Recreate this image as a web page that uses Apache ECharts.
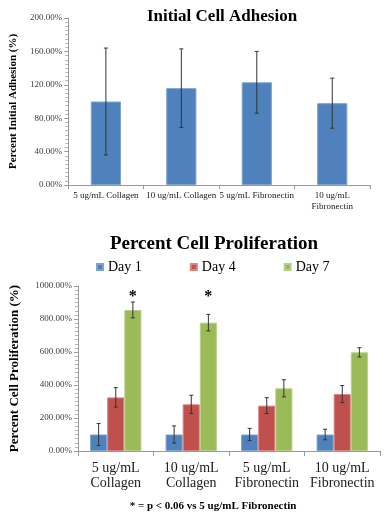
<!DOCTYPE html>
<html>
<head>
<meta charset="utf-8">
<script src="https://cdn.jsdelivr.net/npm/echarts@6/dist/echarts.min.js"></script>
<style>
html,body{margin:0;padding:0;background:#fff;}
#chart{width:392px;height:526px;}
</style>
</head>
<body>
<div id="chart"></div>
<script>
// ---- Data: Initial Cell Adhesion ----
const adhesionCategories = ['5 ug/mL Collagen', '10 ug/mL Collagen', '5 ug/mL Fibronectin', '10 ug/mL\nFibronectin'];
const adhesionValues = [100, 116, 123, 98];
const adhesionErrors = [64, 47, 37, 30];
const adhesionTicks = { min: 0, max: 200, interval: 40 };

// ---- Data: Percent Cell Proliferation ----
const prolifCategories = ['5 ug/mL\nCollagen', '10 ug/mL\nCollagen', '5 ug/mL\nFibronectin', '10 ug/mL\nFibronectin'];
const seriesNames = ['Day 1', 'Day 4', 'Day 7'];
const day1Values = [100, 100, 100, 100];
const day4Values = [325, 283, 275, 345];
const day7Values = [855, 778, 380, 598];
const day1Errors = [67, 52, 37, 32];
const day4Errors = [59, 55, 48, 52];
const day7Errors = [48, 50, 52, 28];
const prolifTicks = { min: 0, max: 1000, interval: 200 };
// significance star markers (category index with star, drawn above Day 7 bar)
const starLevels = [935, 935, null, null];
const footnote = '* = p < 0.06 vs 5 ug/mL Fibronectin';

const colors = ['#4F81BD', '#C0504D', '#9BBB59'];
const borders = ['#7FA3D0', '#D98280', '#B8D08A'];
const serif = '"Liberation Serif", "Times New Roman", serif';

const chart = echarts.init(document.getElementById('chart'), null, { renderer: 'canvas' });

function pctLabel(v) { return v.toFixed(2) + '%'; }

function yAxisCommon(t, name, nameGap, nameSize) {
  return {
    type: 'value', min: t.min, max: t.max, interval: t.interval,
    name: name, nameLocation: 'middle', nameGap: nameGap,
    nameTextStyle: { fontFamily: serif, fontWeight: 'bold', fontSize: nameSize, color: '#000' },
    axisLine: { show: true, lineStyle: { color: '#9a9a9a', width: 1 } },
    axisTick: { show: true, length: 4, lineStyle: { color: '#9a9a9a' } },
    minorTick: { show: true, splitNumber: 8, length: 3, lineStyle: { color: '#b5b5b5' } },
    splitLine: { show: false },
    axisLabel: { formatter: pctLabel, fontFamily: serif, fontSize: 9, color: '#404040', margin: 6 }
  };
}

// error bars for top chart (single series)
function errorRenderSingle(params, api) {
  const idx = api.value(0);
  const hi = api.coord([idx, api.value(1) + api.value(2)]);
  const lo = api.coord([idx, api.value(1) - api.value(2)]);
  const cap = 2;
  const style = { stroke: '#333', lineWidth: 1 };
  return {
    type: 'group',
    children: [
      { type: 'line', shape: { x1: hi[0], y1: hi[1], x2: lo[0], y2: lo[1] }, style: style },
      { type: 'line', shape: { x1: hi[0] - cap, y1: hi[1], x2: hi[0] + cap, y2: hi[1] }, style: style },
      { type: 'line', shape: { x1: lo[0] - cap, y1: lo[1], x2: lo[0] + cap, y2: lo[1] }, style: style }
    ]
  };
}

const categoryGap = 0.32;
function groupedErrorRender(seriesIdx) {
  return function (params, api) {
    const idx = api.value(0);
    const band = api.size([1, 0])[0];
    const barW = band * (1 - categoryGap) / 3;
    const off = (seriesIdx - 1) * barW;
    const hi = api.coord([idx, api.value(1) + api.value(2)]);
    const lo = api.coord([idx, api.value(1) - api.value(2)]);
    const x = hi[0] + off;
    const cap = 2;
    const style = { stroke: '#333', lineWidth: 1 };
    return {
      type: 'group',
      children: [
        { type: 'line', shape: { x1: x, y1: hi[1], x2: x, y2: lo[1] }, style: style },
        { type: 'line', shape: { x1: x - cap, y1: hi[1], x2: x + cap, y2: hi[1] }, style: style },
        { type: 'line', shape: { x1: x - cap, y1: lo[1], x2: x + cap, y2: lo[1] }, style: style }
      ]
    };
  };
}

function starRender(params, api) {
  const idx = api.value(0);
  const band = api.size([1, 0])[0];
  const barW = band * (1 - categoryGap) / 3;
  const p = api.coord([idx, api.value(1)]);
  return {
    type: 'text',
    style: {
      x: p[0] + barW, y: p[1], text: '*', textAlign: 'center', textVerticalAlign: 'middle',
      font: 'bold 16px ' + serif, fill: '#000'
    }
  };
}

const barValuesList = [day1Values, day4Values, day7Values];
const errorsList = [day1Errors, day4Errors, day7Errors];

const series = [
  {
    type: 'bar', xAxisIndex: 0, yAxisIndex: 0, data: adhesionValues, barWidth: '40%',
    itemStyle: { color: colors[0], borderColor: borders[0], borderWidth: 1 }, silent: true
  },
  {
    type: 'custom', xAxisIndex: 0, yAxisIndex: 0, renderItem: errorRenderSingle, silent: true,
    data: adhesionValues.map((v, i) => [i, v, adhesionErrors[i]]), z: 10
  }
];

seriesNames.forEach((name, s) => {
  series.push({
    type: 'bar', name: name, xAxisIndex: 1, yAxisIndex: 1, data: barValuesList[s],
    barGap: '0%', barCategoryGap: (categoryGap * 100) + '%',
    itemStyle: { color: colors[s], borderColor: borders[s], borderWidth: 1 }, silent: true
  });
});
seriesNames.forEach((name, s) => {
  series.push({
    type: 'custom', xAxisIndex: 1, yAxisIndex: 1, renderItem: groupedErrorRender(s), silent: true,
    data: barValuesList[s].map((v, i) => [i, v, errorsList[s][i]]), z: 10
  });
});
series.push({
  type: 'custom', xAxisIndex: 1, yAxisIndex: 1, renderItem: starRender, silent: true,
  data: starLevels.map((v, i) => v == null ? null : [i, v]).filter(d => d !== null), z: 11
});

chart.setOption({
  animation: false,
  backgroundColor: '#fff',
  title: [
    { text: 'Initial Cell Adhesion', left: 217, top: 3, textAlign: 'center',
      textStyle: { fontFamily: serif, fontWeight: 'bold', fontSize: 17, color: '#000' } },
    { text: 'Percent Cell Proliferation', left: 209, top: 230, textAlign: 'center',
      textStyle: { fontFamily: serif, fontWeight: 'bold', fontSize: 19, color: '#000' } },
    { text: footnote, left: 208, top: 496, textAlign: 'center',
      textStyle: { fontFamily: serif, fontWeight: 'bold', fontSize: 11, color: '#000' } }
  ],
  legend: {
    data: seriesNames, left: 91, top: 255, itemWidth: 6, itemHeight: 6, itemGap: 48, icon: 'rect',
    textStyle: { fontFamily: serif, fontSize: 14, color: '#000' }
  },
  grid: [
    { left: 61, top: 18, width: 309, height: 167, containLabel: false },
    { left: 71, top: 286, width: 309, height: 165, containLabel: false }
  ],
  xAxis: [
    {
      type: 'category', gridIndex: 0, data: adhesionCategories,
      axisLine: { lineStyle: { color: '#9a9a9a' } },
      axisTick: { show: true, length: 4, lineStyle: { color: '#9a9a9a' } },
      axisLabel: { interval: 0, fontFamily: serif, fontSize: 9, color: '#202020', margin: 5, lineHeight: 11 }
    },
    {
      type: 'category', gridIndex: 1, data: prolifCategories,
      axisLine: { lineStyle: { color: '#9a9a9a' } },
      axisTick: { show: true, length: 5, lineStyle: { color: '#9a9a9a' } },
      axisLabel: { interval: 0, fontFamily: serif, fontSize: 14, color: '#202020', margin: 10, lineHeight: 15 }
    }
  ],
  yAxis: [
    Object.assign(yAxisCommon(adhesionTicks, 'Percent Initial Adhesion (%)', 48, 11), { gridIndex: 0 }),
    Object.assign(yAxisCommon(prolifTicks, 'Percent Cell Proliferation (%)', 57, 13), { gridIndex: 1 })
  ],
  series: series
});
</script>
</body>
</html>
